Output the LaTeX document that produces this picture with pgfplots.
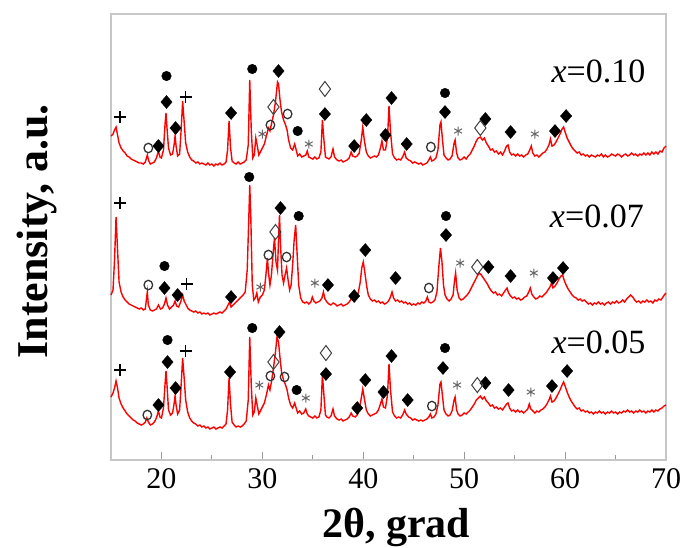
\documentclass[border=0pt]{standalone}
\usepackage{fontspec}
\setmainfont{Liberation Serif}
\usepackage{pgfplots}
\pgfplotsset{compat=1.18}
\begin{document}
\begin{tikzpicture}
\begin{axis}[
  name=ax,
  scale only axis,
  width=555pt, height=446pt,
  xmin=15, xmax=70,
  ymin=14, ymax=460,
  y dir=reverse,
  xtick={20,30,40,50,60,70},
  minor xtick={25,35,45,55,65},
  ytick=\empty,
  xtick pos=left,
  tick align=inside,
  major tick length=8pt,
  minor tick length=5pt,
  tick style={black!40, line width=1pt},
  axis line style={draw=black!22, line width=1.3pt},
  /pgf/number format/assume math mode=true,
  xticklabel style={font=\fontsize{30}{36}\selectfont, yshift=-5pt},
  xlabel={\textbf{2θ, grad}},
  xlabel style={font=\fontsize{42}{48}\selectfont, at={(axis description cs:0.514,-0.173)}, anchor=base, inner sep=0pt},
  ylabel={\textbf{Intensity, a.u.}},
  ylabel style={font=\fontsize{44}{50}\selectfont, at={(axis description cs:-0.097,0.513)}, anchor=south, rotate=0, inner sep=0pt},
  clip=false,
]
% x = 0.10 (top)
\addplot[red, line width=1.4pt] coordinates {
(15.0,136) (15.2,134) (15.35,130) (15.5,127) (15.65,135) (15.8,143) (16.0,148) (16.2,151) (16.4,153) (16.6,156)
(16.8,157) (17.0,159) (17.2,160) (17.4,161) (17.6,162) (17.8,163) (18.0,163) (18.2,164) (18.4,162) (18.6,155)
(18.75,161) (18.9,164) (19.1,163) (19.3,162) (19.5,158) (19.7,151) (19.85,157) (20.0,158) (20.2,150) (20.35,125)
(20.45,113) (20.55,128) (20.7,148) (20.9,155) (21.1,154) (21.25,145) (21.35,136) (21.45,146) (21.6,156) (21.8,154)
(21.95,130) (22.1,101) (22.25,122) (22.4,143) (22.6,152) (22.8,157) (23.0,160) (23.2,161) (23.4,163) (23.6,162)
(23.8,164) (24.0,163) (24.2,164) (24.4,165) (24.6,163) (24.8,165) (25.0,164) (25.2,166) (25.4,164) (25.6,165)
(25.8,163) (26.0,165) (26.2,164) (26.4,162) (26.55,150) (26.7,121) (26.85,148) (27.0,161) (27.2,163) (27.4,164)
(27.6,162) (27.8,164) (28.0,163) (28.2,162) (28.4,160) (28.6,145) (28.75,80) (28.9,130) (29.05,158) (29.2,155)
(29.35,138) (29.5,146) (29.65,155) (29.8,152) (30.0,148) (30.2,144) (30.4,136) (30.6,128) (30.75,131) (30.9,124)
(31.1,115) (31.3,102) (31.5,82) (31.6,84) (31.75,100) (31.9,112) (32.1,120) (32.3,125) (32.45,130) (32.6,140)
(32.8,148) (33.0,150) (33.2,144) (33.35,150) (33.5,156) (33.7,154) (33.9,157) (34.1,156) (34.3,155) (34.45,151)
(34.6,157) (34.8,158) (35.0,159) (35.2,157) (35.4,159) (35.6,158) (35.8,152) (35.95,120) (36.1,140) (36.25,157)
(36.4,158) (36.6,159) (36.8,157) (37.0,149) (37.15,157) (37.4,160) (37.6,161) (37.8,160) (38.0,162) (38.2,161)
(38.4,160) (38.6,158) (38.8,152) (38.95,156) (39.2,157) (39.4,156) (39.6,153) (39.8,140) (39.95,127) (40.1,140)
(40.3,152) (40.5,156) (40.7,158) (40.9,157) (41.1,156) (41.3,157) (41.5,155) (41.7,148) (41.85,141) (42.0,150)
(42.2,150) (42.4,138) (42.55,106) (42.7,132) (42.9,154) (43.1,158) (43.3,160) (43.5,159) (43.7,160) (43.9,157)
(44.1,152) (44.25,158) (44.5,160) (44.7,161) (44.9,163) (45.1,162) (45.3,163) (45.5,164) (45.7,163) (45.9,165)
(46.1,164) (46.3,163) (46.5,160) (46.65,157) (46.8,161) (47.0,160) (47.2,158) (47.4,150) (47.6,125) (47.7,122)
(47.85,140) (48.0,155) (48.2,158) (48.4,160) (48.6,159) (48.8,156) (49.0,143) (49.1,140) (49.25,153) (49.4,158)
(49.6,160) (49.8,159) (50.0,157) (50.2,159) (50.4,156) (50.6,154) (50.8,150) (51.0,146) (51.2,141) (51.4,138)
(51.6,137) (51.8,140) (52.0,138) (52.2,143) (52.4,146) (52.6,150) (52.8,149) (53.0,152) (53.2,151) (53.4,154)
(53.6,152) (53.8,155) (54.0,151) (54.2,146) (54.35,145) (54.5,152) (54.7,155) (54.9,154) (55.1,156) (55.3,154)
(55.5,156) (55.7,155) (55.9,157) (56.1,155) (56.3,154) (56.5,150) (56.65,146) (56.8,153) (57.0,156) (57.2,155)
(57.4,157) (57.6,155) (57.8,153) (58.0,152) (58.2,149) (58.4,145) (58.55,139) (58.7,146) (58.9,145) (59.1,142)
(59.3,138) (59.5,134) (59.7,129) (59.85,127) (60.0,132) (60.2,138) (60.4,142) (60.6,146) (60.8,149) (61.0,151)
(61.2,153) (61.4,152) (61.6,155) (61.8,154) (62.0,156) (62.2,155) (62.4,157) (62.6,155) (62.8,156) (63.0,157)
(63.2,155) (63.4,156) (63.6,154) (63.8,157) (64.0,155) (64.2,157) (64.4,156) (64.6,154) (64.8,155) (65.0,156)
(65.2,154) (65.4,155) (65.6,157) (65.8,155) (66.0,154) (66.2,156) (66.4,155) (66.6,153) (66.8,155) (67.0,154)
(67.2,156) (67.4,154) (67.6,155) (67.8,153) (68.0,155) (68.2,153) (68.4,155) (68.6,152) (68.8,154) (69.0,152)
(69.2,154) (69.4,151) (69.6,152) (69.8,148) (70.0,146)
};
% x = 0.07 (middle)
\addplot[red, line width=1.4pt] coordinates {
(15.0,295) (15.2,290) (15.35,260) (15.5,217) (15.65,250) (15.8,282) (16.0,292) (16.2,297) (16.4,300) (16.6,302)
(16.8,304) (17.0,305) (17.2,306) (17.4,307) (17.6,308) (17.8,309) (18.0,308) (18.2,310) (18.4,309) (18.5,300)
(18.6,292) (18.7,305) (18.9,310) (19.1,311) (19.3,310) (19.5,309) (19.7,305) (19.9,309) (20.1,308) (20.3,304)
(20.45,298) (20.6,305) (20.8,309) (21.0,307) (21.2,305) (21.35,301) (21.5,306) (21.7,307) (21.9,302) (22.1,295)
(22.25,301) (22.45,305) (22.6,308) (22.8,310) (23.0,311) (23.2,312) (23.4,311) (23.6,313) (23.8,312) (24.0,314)
(24.2,313) (24.4,314) (24.6,313) (24.8,315) (25.0,314) (25.2,313) (25.4,314) (25.6,313) (25.8,312) (26.0,313)
(26.2,311) (26.4,309) (26.6,305) (26.75,302) (26.9,307) (27.1,305) (27.3,303) (27.5,301) (27.7,299) (27.9,297)
(28.1,295) (28.3,292) (28.5,270) (28.65,220) (28.75,185) (28.85,215) (29.0,285) (29.15,300) (29.3,298) (29.45,293)
(29.6,302) (29.8,297) (30.0,295) (30.2,290) (30.35,275) (30.5,258) (30.6,272) (30.75,285) (30.9,275) (31.05,255)
(31.2,238) (31.35,262) (31.5,270) (31.6,240) (31.7,215) (31.8,245) (31.95,275) (32.1,283) (32.25,275) (32.4,268)
(32.55,280) (32.7,290) (32.85,285) (33.0,265) (33.15,240) (33.3,225) (33.45,255) (33.6,285) (33.8,298) (34.0,302)
(34.2,303) (34.4,302) (34.6,304) (34.8,302) (34.95,297) (35.1,301) (35.3,303) (35.5,302) (35.7,301) (35.9,298)
(36.05,292) (36.2,299) (36.4,302) (36.6,304) (36.8,305) (37.0,303) (37.2,304) (37.4,306) (37.6,305) (37.8,304)
(38.0,306) (38.2,305) (38.4,304) (38.6,302) (38.8,299) (38.95,297) (39.1,300) (39.3,298) (39.5,293) (39.7,282)
(39.85,268) (40.0,262) (40.15,272) (40.35,287) (40.5,295) (40.7,299) (40.9,301) (41.1,300) (41.3,302) (41.5,301)
(41.7,303) (41.9,302) (42.1,304) (42.3,303) (42.5,301) (42.7,297) (42.85,292) (43.0,298) (43.2,301) (43.4,300)
(43.6,302) (43.8,301) (44.0,303) (44.2,302) (44.4,304) (44.6,303) (44.8,305) (45.0,304) (45.2,305) (45.4,303)
(45.6,304) (45.8,302) (46.0,303) (46.2,301) (46.35,297) (46.5,302) (46.7,303) (46.9,302) (47.1,300) (47.3,292)
(47.5,265) (47.65,248) (47.8,262) (47.95,285) (48.1,295) (48.3,299) (48.5,301) (48.7,299) (48.9,295) (49.05,280)
(49.15,273) (49.3,290) (49.5,298) (49.7,300) (49.9,299) (50.1,297) (50.3,295) (50.5,292) (50.7,288) (50.9,284)
(51.1,280) (51.3,276) (51.5,273) (51.7,275) (51.9,278) (52.1,281) (52.3,284) (52.5,288) (52.7,291) (52.9,293)
(53.1,292) (53.3,295) (53.5,294) (53.7,296) (53.9,293) (54.1,290) (54.25,288) (54.4,293) (54.6,296) (54.8,298)
(55.0,297) (55.2,299) (55.4,298) (55.6,300) (55.8,299) (56.0,297) (56.2,296) (56.4,292) (56.55,288) (56.7,294)
(56.9,297) (57.1,299) (57.3,298) (57.5,296) (57.7,297) (57.9,295) (58.1,293) (58.3,290) (58.5,287) (58.65,283)
(58.8,288) (59.0,286) (59.2,283) (59.4,279) (59.6,276) (59.75,275) (59.9,280) (60.1,285) (60.3,289) (60.5,292)
(60.7,295) (60.9,297) (61.1,298) (61.3,300) (61.5,299) (61.7,301) (61.9,300) (62.1,302) (62.3,304) (62.5,303)
(62.7,305) (62.9,303) (63.1,304) (63.3,302) (63.5,304) (63.7,303) (63.9,305) (64.1,303) (64.3,302) (64.5,304)
(64.7,302) (64.9,303) (65.1,301) (65.3,303) (65.5,302) (65.7,300) (65.9,302) (66.1,299) (66.3,297) (66.5,295)
(66.7,297) (66.9,300) (67.1,302) (67.3,301) (67.5,303) (67.7,301) (67.9,302) (68.1,300) (68.3,302) (68.5,301)
(68.7,303) (68.9,300) (69.1,301) (69.3,299) (69.5,300) (69.7,297) (69.9,294) (70.0,293)
};
% x = 0.05 (bottom)
\addplot[red, line width=1.4pt] coordinates {
(15.0,397) (15.2,393) (15.35,388) (15.5,381) (15.65,388) (15.8,398) (16.0,404) (16.2,408) (16.4,411) (16.6,414)
(16.8,416) (17.0,418) (17.2,420) (17.4,421) (17.6,423) (17.8,424) (18.0,425) (18.2,424) (18.4,422) (18.55,418)
(18.7,422) (18.9,425) (19.1,424) (19.3,422) (19.5,418) (19.7,411) (19.85,417) (20.0,418) (20.2,408) (20.35,385)
(20.45,371) (20.55,385) (20.7,410) (20.9,415) (21.1,413) (21.25,404) (21.35,396) (21.45,405) (21.6,414) (21.8,410)
(21.95,385) (22.1,358) (22.25,378) (22.4,400) (22.6,412) (22.8,418) (23.0,421) (23.2,423) (23.4,424) (23.6,426)
(23.8,425) (24.0,427) (24.2,426) (24.4,428) (24.6,427) (24.8,429) (25.0,428) (25.2,427) (25.4,429) (25.6,428)
(25.8,427) (26.0,428) (26.2,426) (26.4,424) (26.55,410) (26.7,378) (26.85,405) (27.0,422) (27.2,425) (27.4,427)
(27.6,426) (27.8,427) (28.0,426) (28.2,424) (28.4,421) (28.6,400) (28.75,337) (28.9,385) (29.05,415) (29.2,412)
(29.35,398) (29.5,406) (29.65,414) (29.8,411) (30.0,407) (30.2,403) (30.4,395) (30.6,385) (30.75,390) (30.9,382)
(31.1,368) (31.3,352) (31.45,337) (31.6,342) (31.75,358) (31.9,372) (32.1,380) (32.3,385) (32.45,390) (32.6,398)
(32.8,405) (33.0,408) (33.2,403) (33.35,408) (33.5,413) (33.7,411) (33.9,414) (34.1,413) (34.3,409) (34.45,414)
(34.6,416) (34.8,417) (35.0,418) (35.2,416) (35.4,418) (35.6,417) (35.8,410) (35.95,375) (36.1,395) (36.25,415)
(36.4,417) (36.6,418) (36.8,416) (37.0,409) (37.15,416) (37.4,419) (37.6,420) (37.8,419) (38.0,421) (38.2,420)
(38.4,419) (38.6,417) (38.8,413) (38.95,416) (39.2,417) (39.4,415) (39.6,410) (39.8,398) (39.95,389) (40.1,398)
(40.3,410) (40.5,414) (40.7,416) (40.9,415) (41.1,414) (41.3,413) (41.5,410) (41.7,404) (41.85,399) (42.0,407)
(42.2,408) (42.4,395) (42.55,364) (42.7,390) (42.9,412) (43.1,416) (43.3,418) (43.5,417) (43.7,418) (43.9,415)
(44.1,410) (44.25,414) (44.5,417) (44.7,418) (44.9,420) (45.1,419) (45.3,420) (45.5,421) (45.7,420) (45.9,421)
(46.1,420) (46.3,419) (46.5,417) (46.65,414) (46.8,418) (47.0,417) (47.2,414) (47.4,405) (47.6,384) (47.7,382)
(47.85,396) (48.0,410) (48.2,414) (48.4,416) (48.6,415) (48.8,411) (49.0,400) (49.1,397) (49.25,410) (49.4,414)
(49.6,416) (49.8,415) (50.0,413) (50.2,414) (50.4,412) (50.6,410) (50.8,407) (51.0,404) (51.2,400) (51.4,398)
(51.6,396) (51.8,399) (52.0,397) (52.2,401) (52.4,403) (52.6,406) (52.8,405) (53.0,408) (53.2,407) (53.4,409)
(53.6,408) (53.8,410) (54.0,407) (54.2,404) (54.35,403) (54.5,408) (54.7,411) (54.9,410) (55.1,412) (55.3,410)
(55.5,412) (55.7,411) (55.9,413) (56.1,411) (56.3,409) (56.45,404) (56.6,409) (56.8,411) (57.0,413) (57.2,411)
(57.4,412) (57.6,410) (57.8,409) (58.0,407) (58.2,404) (58.4,400) (58.55,396) (58.7,402) (58.9,401) (59.1,398)
(59.3,394) (59.5,390) (59.7,385) (59.85,382) (60.0,386) (60.2,392) (60.4,397) (60.6,401) (60.8,404) (61.0,407)
(61.2,409) (61.4,408) (61.6,411) (61.8,410) (62.0,412) (62.2,411) (62.4,413) (62.6,412) (62.8,414) (63.0,412)
(63.2,413) (63.4,411) (63.6,413) (63.8,412) (64.0,414) (64.2,412) (64.4,413) (64.6,411) (64.8,413) (65.0,412)
(65.2,414) (65.4,412) (65.6,413) (65.8,411) (66.0,412) (66.2,410) (66.4,412) (66.6,411) (66.8,413) (67.0,411)
(67.2,412) (67.4,410) (67.6,412) (67.8,411) (68.0,413) (68.2,411) (68.4,412) (68.6,410) (68.8,412) (69.0,410)
(69.2,411) (69.4,409) (69.6,408) (69.8,406) (70.0,405)
};
% filled diamonds
\addplot[only marks, mark=diamond*, mark size=6.5pt, mark options={fill=black, draw=black, xscale=1.15}] coordinates {
(19.7,146) (20.5,102) (21.4,128) (26.9,113) (31.6,71) (36.2,114) (39.1,146) (40.3,120) (42.2,135) (42.8,98)
(44.3,144) (48.1,112) (52.1,119) (54.6,132) (59.0,131) (60.1,116)
(20.3,288) (21.6,295) (26.9,297) (31.8,208) (36.5,285) (39.1,296) (40.2,250) (43.2,278) (48.2,235) (52.4,267)
(54.6,276) (58.8,278) (59.8,268)
(19.7,405) (20.6,362) (21.4,388) (26.8,372) (31.7,332) (36.3,374) (39.4,408) (40.2,380) (42.0,392) (42.8,356)
(44.4,400) (47.9,368) (52.1,383) (54.4,390) (58.7,386) (60.2,371)
};
% filled circles
\addplot[only marks, mark=*, mark size=4.8pt, mark options={fill=black, draw=black}] coordinates {
(20.5,76) (29.0,69) (33.5,131) (48.1,93)
(20.3,266) (28.7,177) (33.6,216) (48.2,216)
(20.6,340) (29.0,328) (33.4,390) (48.1,348)
};
% open circles
\addplot[only marks, mark=o, mark size=4.3pt, mark options={draw=black!80, line width=1.3pt, yscale=1.1}] coordinates {
(18.7,148) (30.8,125) (32.5,114) (46.7,147)
(18.7,285) (30.6,255) (32.4,257) (46.5,288)
(18.6,415) (30.8,376) (32.2,377) (46.8,406)
};
% open diamonds
\addplot[only marks, mark=diamond, mark size=7.5pt, mark options={draw=black!75, line width=1pt}] coordinates {
(31.1,107) (36.2,89) (51.6,128)
(31.3,232) (51.3,267)
(31.1,362) (36.3,353) (51.3,385)
};
% asterisks
\addplot[only marks, mark=asterisk, mark size=4.5pt, mark options={draw=black!60, line width=1pt}] coordinates {
(30.0,134) (34.6,144) (49.4,131) (57.0,134)
(29.8,287) (35.2,283) (49.6,263) (56.9,273)
(29.7,385) (34.3,398) (49.3,385) (56.6,392)
};
% plus
\addplot[only marks, mark=+, mark size=6pt, mark options={draw=black, line width=1.6pt}] coordinates {
(15.9,117) (22.4,97)
(15.9,203) (22.5,284)
(15.9,370) (22.4,351)
};
\node[font=\fontsize{34}{40}\selectfont, inner sep=0pt, anchor=base] at (axis cs:63.3,82) {\textit{x}=0.10};
\node[font=\fontsize{34}{40}\selectfont, inner sep=0pt, anchor=base] at (axis cs:63.15,227) {\textit{x}=0.07};
\node[font=\fontsize{34}{40}\selectfont, inner sep=0pt, anchor=base] at (axis cs:63.3,353) {\textit{x}=0.05};
\end{axis}
\pgfresetboundingbox
\path[use as bounding box] ([xshift=-111pt,yshift=-87pt]ax.south west) rectangle ([xshift=17pt,yshift=14pt]ax.north east);
\end{tikzpicture}
\end{document}
